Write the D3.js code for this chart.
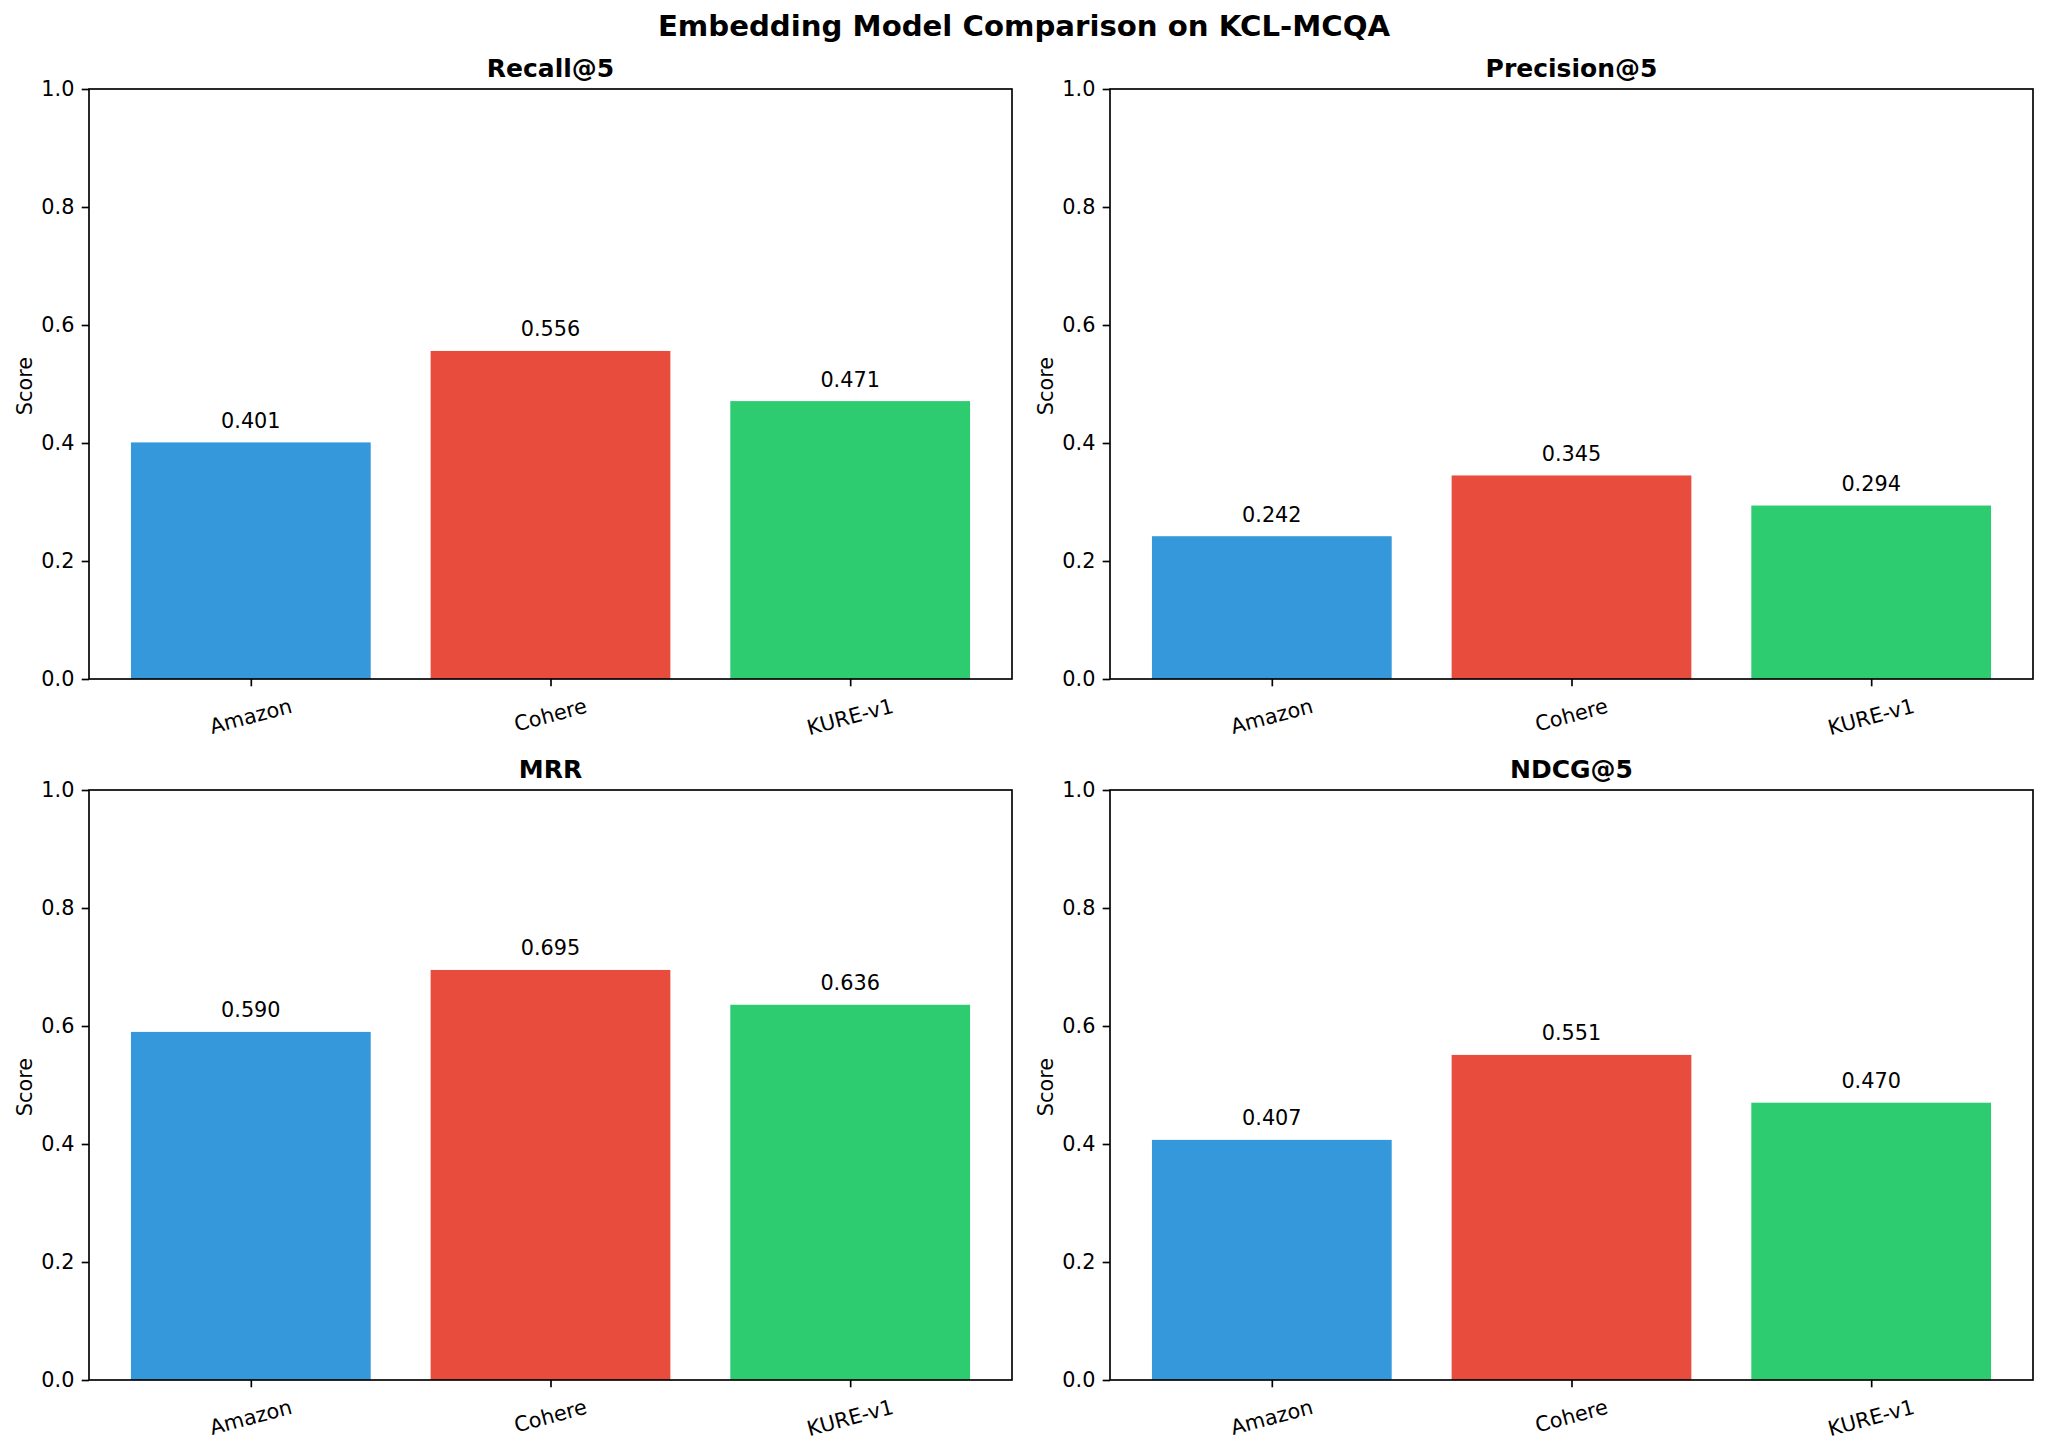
<!DOCTYPE html>
<html>
<head>
<meta charset="utf-8">
<script src="https://cdn.jsdelivr.net/npm/d3@7"></script>
<style>
  html, body { margin: 0; padding: 0; background: #fff; }
  svg { display: block; font-family: "DejaVu Sans", sans-serif; }
</style>
</head>
<body>
<svg id="chart" width="2048" height="1451"></svg>
<script>
// ---- data ----
const models = ["Amazon", "Cohere", "KURE-v1"];
const colors = ["#3498db", "#e74c3c", "#2ecc71"];
const metricNames = ["Recall@5", "Precision@5", "MRR", "NDCG@5"];
const recall5 = [0.401, 0.556, 0.471];
const precision5 = [0.242, 0.345, 0.294];
const mrr = [0.590, 0.695, 0.636];
const ndcg5 = [0.407, 0.551, 0.470];
const yTicks = [0.0, 0.2, 0.4, 0.6, 0.8, 1.0];
const suptitle = "Embedding Model Comparison on KCL-MCQA";
const yLabel = "Score";

const seriesList = [recall5, precision5, mrr, ndcg5];

// ---- layout ----
const svg = d3.select("#chart");
const W = 2048;
const tickFont = 20.8, titleFont = 25, supFont = 29.2;
const tickLen = 7.3, tickPad = 7.3;
const lw = 1.67;
const colX = [89, 1110], rowY = [89, 790];
const pw = 923, ph = 590;

svg.append("text")
  .attr("x", W / 2).attr("y", 36)
  .attr("text-anchor", "middle")
  .attr("font-size", supFont).attr("font-weight", "bold")
  .attr("fill", "#000")
  .text(suptitle);

seriesList.forEach((vals, i) => {
  const ox = colX[i % 2], oy = rowY[Math.floor(i / 2)];
  const g = svg.append("g").attr("transform", `translate(${ox},${oy})`);

  const x = d3.scaleLinear().domain([-0.54, 2.54]).range([0, pw]);
  const y = d3.scaleLinear().domain([0, 1]).range([ph, 0]);
  const bw = 0.8;

  // bars
  g.selectAll("rect.bar").data(vals).enter().append("rect")
    .attr("class", "bar")
    .attr("x", (d, j) => x(j - bw / 2))
    .attr("width", (d, j) => x(j + bw / 2) - x(j - bw / 2))
    .attr("y", d => y(d))
    .attr("height", d => y(0) - y(d))
    .attr("fill", (d, j) => colors[j]);

  // value labels
  g.selectAll("text.val").data(vals).enter().append("text")
    .attr("class", "val")
    .attr("x", (d, j) => x(j))
    .attr("y", d => y(d) - 14.5)
    .attr("text-anchor", "middle")
    .attr("font-size", tickFont)
    .attr("fill", "#000")
    .text(d => d.toFixed(3));

  // y axis
  const yAxis = d3.axisLeft(y).tickValues(yTicks).tickFormat(d3.format(".1f"))
    .tickSize(tickLen).tickPadding(tickPad);
  const ya = g.append("g").call(yAxis);
  ya.select(".domain").remove();
  ya.selectAll("line").attr("stroke", "#000").attr("stroke-width", lw);
  ya.selectAll("text").attr("font-size", tickFont).attr("font-family", "DejaVu Sans")
    .attr("fill", "#000");

  // x axis ticks (labels drawn manually for rotation)
  const xAxis = d3.axisBottom(x).tickValues([0, 1, 2]).tickFormat(() => "")
    .tickSize(tickLen);
  const xa = g.append("g").attr("transform", `translate(0,${ph})`).call(xAxis);
  xa.select(".domain").remove();
  xa.selectAll("line").attr("stroke", "#000").attr("stroke-width", lw);

  // rotated x labels
  const rot = 15 * Math.PI / 180;
  const topY = ph + tickLen + tickPad;
  models.forEach((m, j) => {
    const t = g.append("text")
      .attr("text-anchor", "middle")
      .attr("font-size", tickFont)
      .attr("fill", "#000")
      .text(m);
    const w = t.node().getComputedTextLength();
    const h = 1.164 * tickFont;
    const H = w * Math.sin(rot) + h * Math.cos(rot);
    const cx = x(j), cy = topY + H / 2;
    t.attr("x", 0).attr("y", 0.346 * tickFont)
      .attr("transform", `translate(${cx},${cy}) rotate(-15)`);
  });

  // spines
  g.append("rect")
    .attr("x", 0).attr("y", 0).attr("width", pw).attr("height", ph)
    .attr("fill", "none").attr("stroke", "#000").attr("stroke-width", lw);

  // title
  g.append("text")
    .attr("x", pw / 2).attr("y", -12)
    .attr("text-anchor", "middle")
    .attr("font-size", titleFont).attr("font-weight", "bold")
    .attr("fill", "#000")
    .text(metricNames[i]);

  // y label
  g.append("text")
    .attr("transform", `translate(${-57},${ph / 2 + 2}) rotate(-90)`)
    .attr("text-anchor", "middle")
    .attr("font-size", tickFont)
    .attr("fill", "#000")
    .text(yLabel);
});
</script>
</body>
</html>
